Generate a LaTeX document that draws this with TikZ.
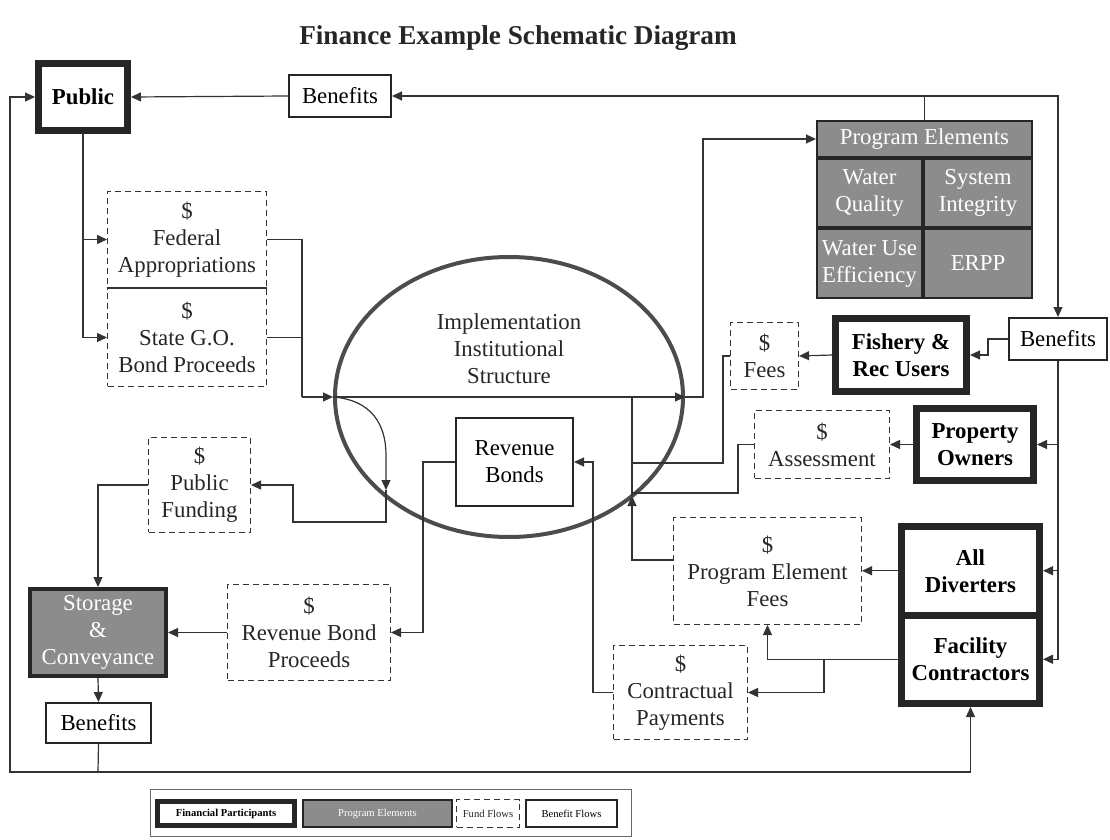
\documentclass[tikz,border=0pt]{standalone}
\usepackage{fontspec}
\setmainfont{Liberation Serif}
\usetikzlibrary{shapes.geometric, arrows.meta, calc}

\tikzset{
  boxfont/.style={font=\fontsize{11.4}{13.5}\selectfont},
  partbox/.style={
    draw=black!85, line width=3.5pt, fill=white, align=center,
    inner sep=1pt, font=\fontsize{11.4}{13.5}\selectfont\bfseries
  },
  fundbox/.style={
    draw=black!80, line width=0.6pt, dash pattern=on 3pt off 2pt,
    fill=white, align=center, inner sep=1pt, boxfont, text=black!85
  },
  benbox/.style={
    draw=black!85, line width=1pt, fill=white, align=center,
    inner sep=1pt, boxfont
  },
  progcell/.style={
    draw=black!85, line width=1.2pt, fill=black!45, text=white,
    align=center, inner sep=0.5pt, boxfont
  },
  flowline/.style={line width=0.6pt, draw=black!80},
  flowarrow/.style={flowline, -{Triangle[length=5pt,width=4.5pt]}},
  legendfont/.style={font=\fontsize{5.3}{6.5}\selectfont},
}

\begin{document}
\begin{tikzpicture}[x=0.5pt, y=-0.5pt]
  \useasboundingbox (0,0) rectangle (1110,840);

  % === Title ===
  \node[font=\fontsize{13.6}{16}\selectfont\bfseries, text=black!85] (title) at (518,38)
    {Finance Example Schematic Diagram};

  % === Public side ===
  \node[partbox, minimum width=44.5pt, minimum height=33.5pt] (public) at (83,97) {Public};
  \node[benbox, minimum width=51pt, minimum height=21pt] (bentop) at (340,96) {Benefits};

  \node[fundbox, minimum width=79.4pt, minimum height=47.9pt] (fedapp) at (187,239.5)
    {\$\\Federal\\Appropriations};
  \node[fundbox, minimum width=79.4pt, minimum height=48.9pt] (stgo) at (187,337.5)
    {\$\\State G.O.\\Bond Proceeds};
  \draw[line width=0.6pt, black!80] (fedapp.south west) -- (fedapp.south east);

  % === Implementation structure ===
  \node[ellipse, draw=black!70, line width=2pt, minimum width=174pt, minimum height=140pt,
    inner sep=0pt] (iis) at (509,397) {};
  \node[boxfont, align=center, text=black!85] (iistext) at (509,349)
    {Implementation\\Institutional\\Structure};
  \node[benbox, line width=0.8pt, minimum width=58.7pt, minimum height=44.2pt] (revbonds)
    at (514.5,462) {Revenue\\Bonds};

  % === Program elements ===
  \node[progcell, minimum width=107.3pt, minimum height=17.8pt] (progelements) at (924.5,139)
    {Program Elements};
  \node[progcell, minimum width=52.3pt, minimum height=33.8pt] (wq) at (869.5,193)
    {Water\\Quality};
  \node[progcell, minimum width=53.8pt, minimum height=33.8pt] (si) at (978,193)
    {System\\Integrity};
  \node[progcell, minimum width=52.3pt, minimum height=34.3pt] (wue) at (869.5,263.5)
    {Water Use\\Efficiency};
  \node[progcell, minimum width=53.8pt, minimum height=34.3pt] (erpp) at (978,263.5)
    {ERPP};

  % === Right side participants ===
  \node[benbox, minimum width=49pt, minimum height=21pt] (benright) at (1058,339) {Benefits};
  \node[partbox, minimum width=65.5pt, minimum height=36.5pt] (fishery) at (901,355)
    {Fishery \&\\Rec Users};
  \node[fundbox, minimum width=34pt, minimum height=33.4pt] (fees) at (764.5,356)
    {\$\\Fees};
  \node[partbox, minimum width=58.5pt, minimum height=36pt] (property) at (975,444.5)
    {Property\\Owners};
  \node[fundbox, minimum width=67.4pt, minimum height=33.9pt] (assess) at (822,444.5)
    {\$\\Assessment};
  \node[partbox, minimum width=69pt, minimum height=44.25pt] (alldiv) at (970.5,570.75)
    {All\\Diverters};
  \node[partbox, minimum width=69pt, minimum height=44.25pt] (facility) at (970.5,659.25)
    {Facility\\Contractors};
  \node[fundbox, minimum width=93.9pt, minimum height=53.4pt] (pef) at (767.5,571)
    {\$\\Program Element\\Fees};
  \node[fundbox, minimum width=66.9pt, minimum height=46.9pt] (contract) at (680.5,692.5)
    {\$\\Contractual\\Payments};

  % === Left lower side ===
  \node[fundbox, minimum width=50.9pt, minimum height=47.4pt] (pubfund) at (199.5,485)
    {\$\\Public\\Funding};
  \node[fundbox, minimum width=81.4pt, minimum height=47.9pt] (rbp) at (309,632.5)
    {\$\\Revenue Bond\\Proceeds};
  \node[progcell, line width=2pt, minimum width=68pt, minimum height=43.5pt] (storage)
    at (98,632.5) {Storage\\\&\\Conveyance};
  \node[benbox, minimum width=52.5pt, minimum height=20pt] (benbot) at (98.5,723) {Benefits};

  % === Junctions ===
  \coordinate (jtop) at (924.5,96);
  \coordinate (jfund) at (302,397);
  \coordinate (jpe) at (703,397);
  \coordinate (jpf) at (386,490);
  \coordinate (jrb) at (423,462);
  \coordinate (jcp) at (593,692.5);
  \coordinate (jin) at (632,496);
  \coordinate (jmid) at (632,397);
  \coordinate (jfc) at (824,659.25);
  \coordinate (jbot) at (98,772);
  \coordinate (jleft) at (10,772);

  % === Benefit flows ===
  \draw[flowarrow] (bentop.west) -- (public.east);
  \draw[flowarrow] (progelements.north) -- (jtop) -- (bentop.east);
  \draw[flowarrow] (jtop) -| (benright.north);
  \draw[flowarrow] (benright.west) -- (988,339) |- (fishery.east);
  \draw[flowarrow] (benright.south) |- (property.east);
  \draw[flowarrow] (benright.south) |- (alldiv.east);
  \draw[flowarrow] (benright.south) |- (facility.east);
  \draw[flowarrow] (storage.south) -- (benbot.north);
  \draw[flowline] (benbot.south) -- (jbot);
  \draw[flowarrow] (jbot) -- (jleft) |- (public.west);
  \draw[flowarrow] (jbot) -| (facility.south);

  % === Fund flows ===
  \draw[flowarrow] (public.south) |- (fedapp.west);
  \draw[flowarrow] (public.south) |- (stgo.west);
  \draw[flowline] (fedapp.east) -| (jfund);
  \draw[flowline] (stgo.east) -| (jfund);
  \draw[flowarrow] (jfund) -- (iis.west);
  \draw[flowarrow] (iis.west) -- (iis.east);
  \draw[flowarrow] (iis.east) -- (jpe) |- (progelements.west);
  \draw[flowarrow] (iis.west) .. controls (372,400) and (386,425) .. (386,455) -- (jpf);
  \draw[flowarrow] (jpf) -- (386,522) -| (293,485) -- (pubfund.east);
  \draw[flowarrow] (pubfund.west) -| (storage.north);
  \draw[flowarrow] (rbp.west) -- (storage.east);
  \draw[flowarrow] (revbonds.west) -- (jrb) |- (rbp.east);
  \draw[flowarrow] (contract.west) -- (jcp) |- (revbonds.east);
  \draw[flowarrow] (fishery.west) -- (fees.east);
  \draw[flowarrow] (property.west) -- (assess.east);
  \draw[flowarrow] (alldiv.west) -- (alldiv.west -| pef.east);
  \draw[flowarrow] (facility.west) -| (pef.south);
  \draw[flowarrow] (jfc) |- (contract.east);
  \draw[flowline] (fees.west) -- (723,356) |- (632,463);
  \draw[flowline] (assess.west) -- (738,444.5) |- (632,493);
  \draw[flowarrow] ([yshift=5.5pt]pef.west) -| (jin);
  \draw[flowline] (jin) -- (jmid);

  % === Legend ===
  \node[draw=black!60, line width=0.6pt, minimum width=240.4pt, minimum height=23.4pt] (legend)
    at (391,813) {};
  \node[partbox, line width=2.5pt, legendfont, font=\fontsize{5.3}{6.5}\selectfont\bfseries,
    minimum width=68.5pt, minimum height=12pt] (lgpart) at (226,813.5) {Financial Participants};
  \node[progcell, line width=1pt, legendfont, minimum width=74.5pt, minimum height=13.5pt]
    (lgprog) at (377.5,813.5) {Program Elements};
  \node[fundbox, legendfont, minimum width=31.4pt, minimum height=13.9pt] (lgfund)
    at (488,813.5) {Fund Flows};
  \node[benbox, legendfont, minimum width=45.5pt, minimum height=13.5pt] (lgben)
    at (571.5,813.5) {Benefit Flows};
\end{tikzpicture}
\end{document}
